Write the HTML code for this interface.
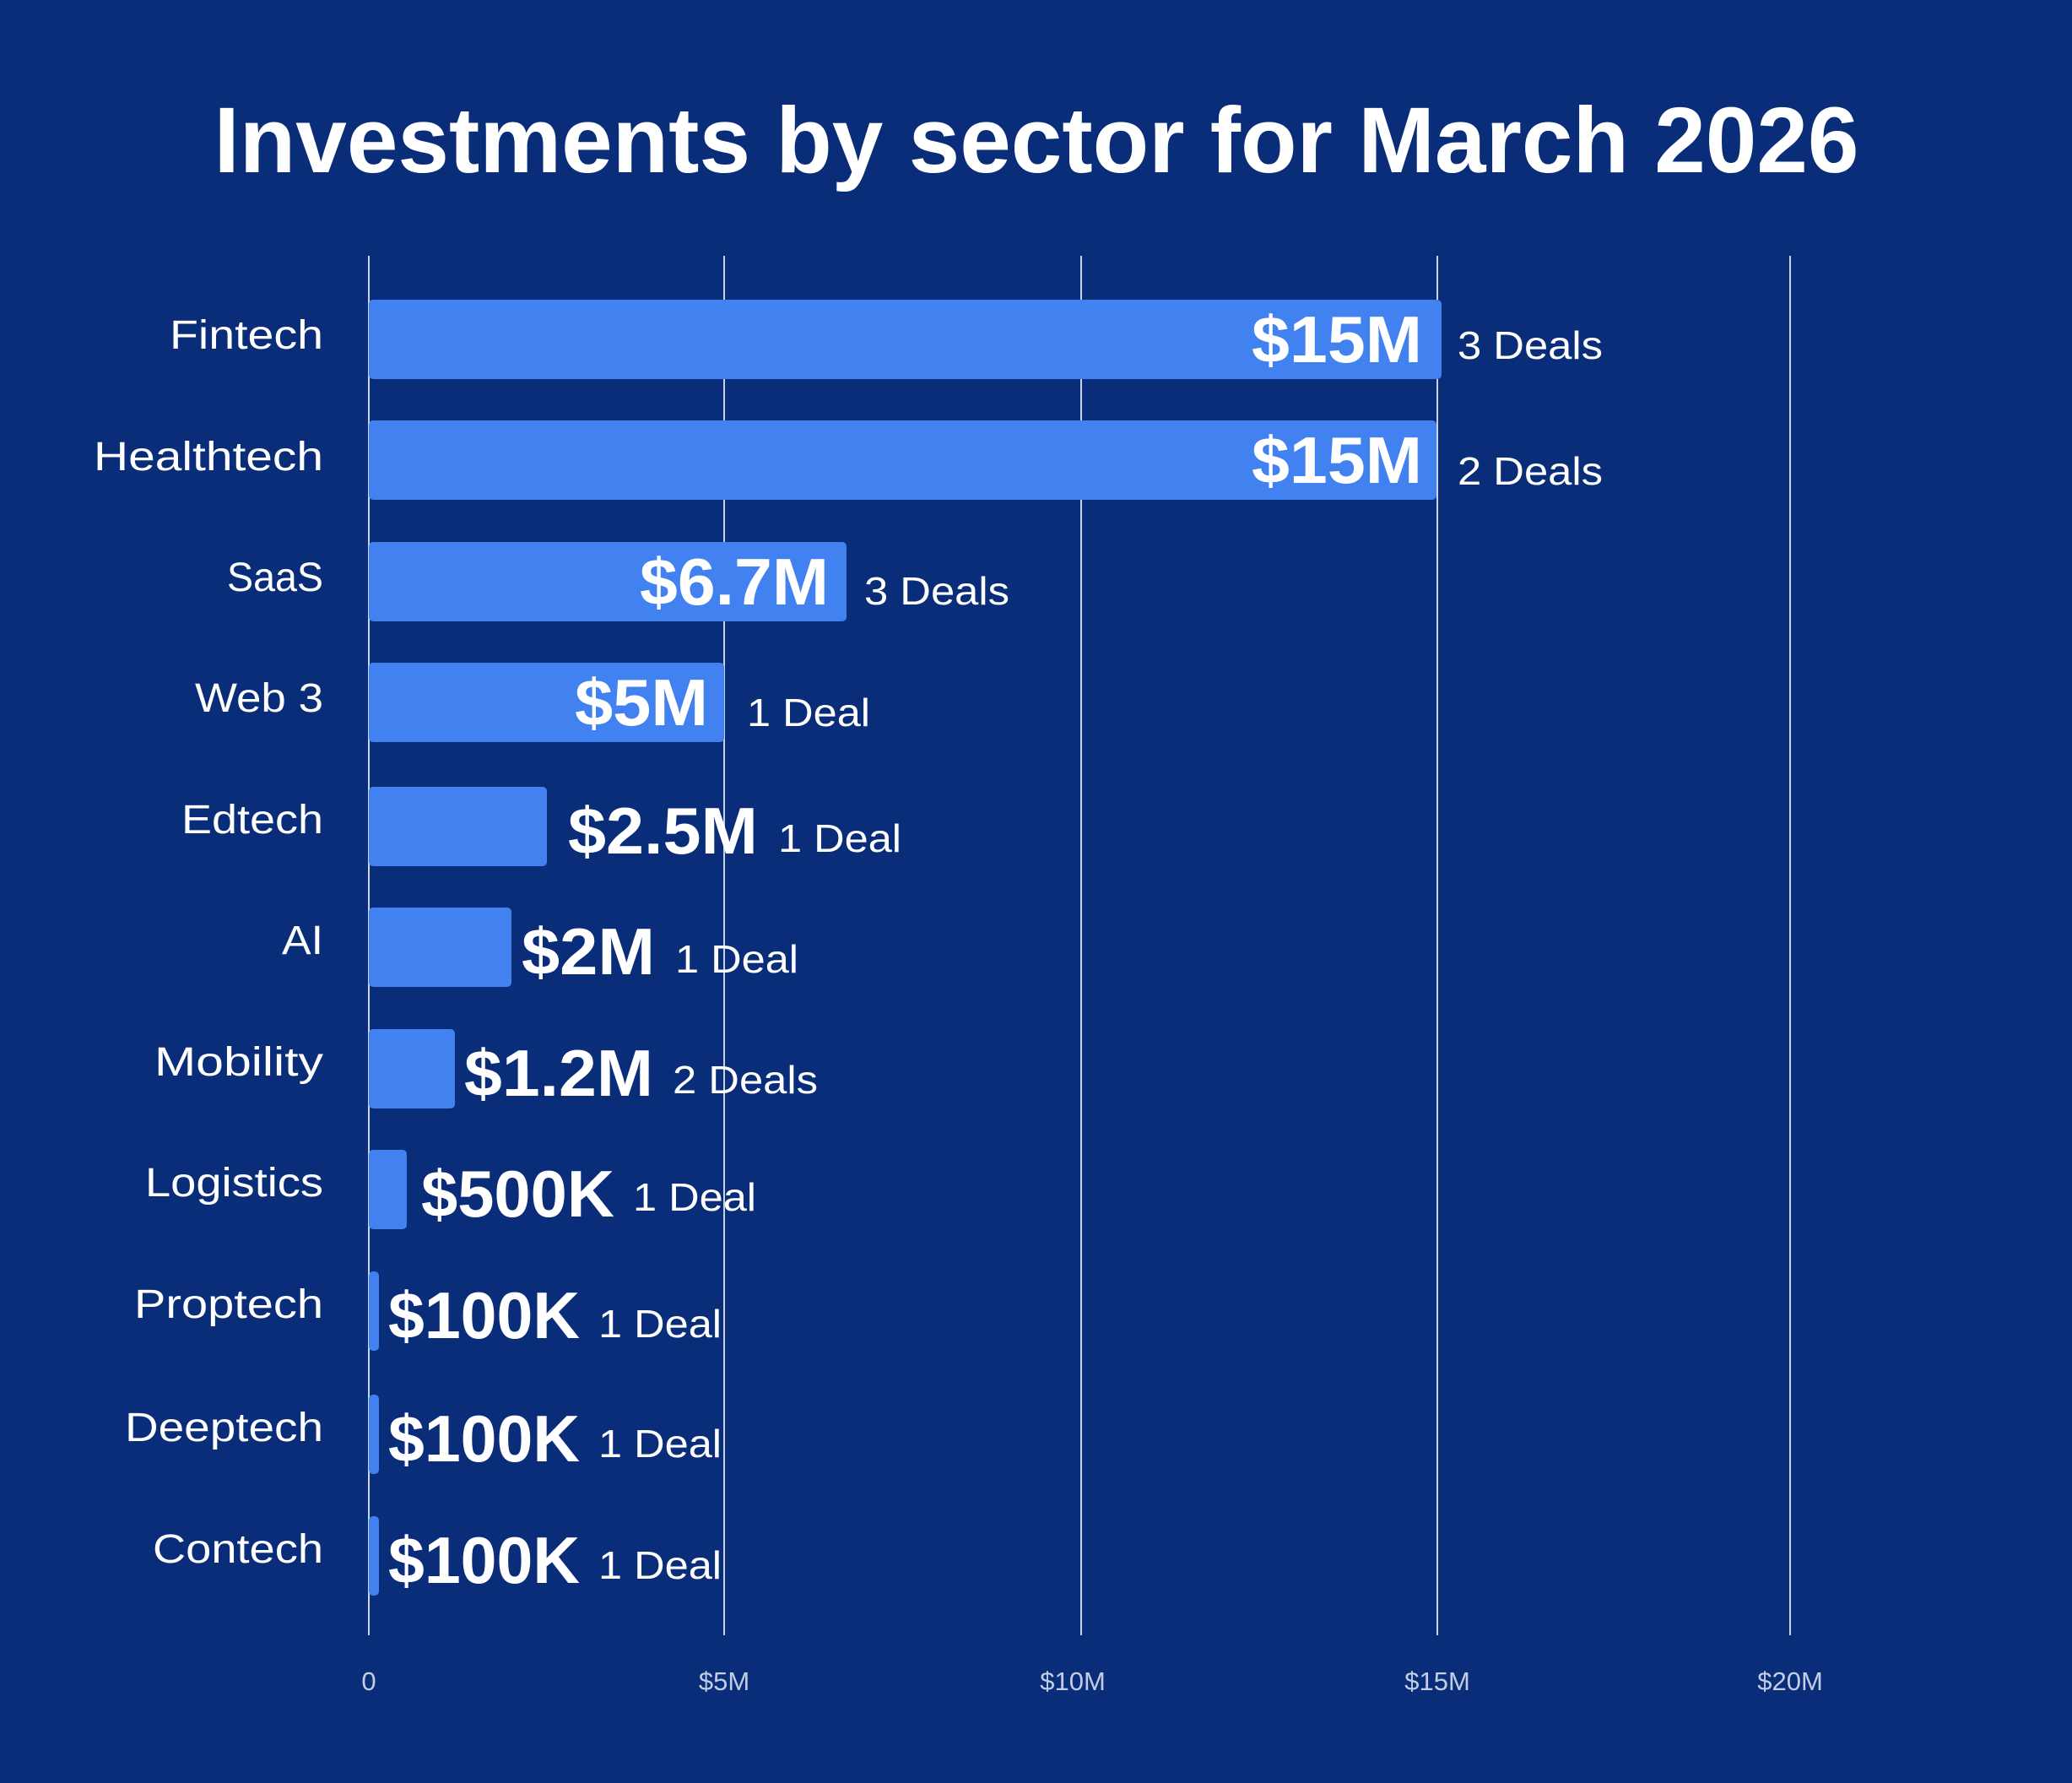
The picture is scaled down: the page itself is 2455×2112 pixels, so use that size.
<!DOCTYPE html>
<html><head><meta charset="utf-8"><style>
html,body{margin:0;padding:0;background:#0a2d7a;}
svg{display:block;}
text{font-family:"Liberation Sans",sans-serif;fill:#fff;}
</style></head><body>
<svg width="2455" height="2112" viewBox="0 0 2455 2112" xmlns="http://www.w3.org/2000/svg">
<rect width="2455" height="2112" fill="#0a2d7a"/>
<text x="1228" y="204" font-size="110" font-weight="bold" text-anchor="middle" textLength="1949" lengthAdjust="spacingAndGlyphs">Investments by sector for March 2026</text>
<g stroke="#c9d2e6" stroke-width="2">
<line x1="437" y1="303" x2="437" y2="1937"/>
<line x1="858" y1="303" x2="858" y2="1937"/>
<line x1="1281" y1="303" x2="1281" y2="1937"/>
<line x1="1703" y1="303" x2="1703" y2="1937"/>
<line x1="2121" y1="303" x2="2121" y2="1937"/>
</g>
<g font-size="31" text-anchor="middle">
<text x="437" y="2002" style="fill:#c3cde6">0</text>
<text x="858" y="2002" style="fill:#c3cde6">$5M</text>
<text x="1271" y="2002" style="fill:#c3cde6">$10M</text>
<text x="1703" y="2002" style="fill:#c3cde6">$15M</text>
<text x="2121" y="2002" style="fill:#c3cde6">$20M</text>
</g>
<g fill="#4282f0">
<rect x="437" y="355" width="1271" height="94" rx="5"/>
<rect x="437" y="498" width="1265" height="94" rx="5"/>
<rect x="437" y="642" width="566" height="94" rx="5"/>
<rect x="437" y="785" width="421" height="94" rx="5"/>
<rect x="437" y="932" width="211" height="94" rx="5"/>
<rect x="437" y="1075" width="169" height="94" rx="5"/>
<rect x="437" y="1219" width="102" height="94" rx="5"/>
<rect x="437" y="1362" width="45" height="94" rx="5"/>
<rect x="437" y="1506" width="12" height="94" rx="5"/>
<rect x="437" y="1652" width="12" height="94" rx="5"/>
<rect x="437" y="1796" width="12" height="94" rx="5"/>
</g>
<g font-size="48" text-anchor="end" lengthAdjust="spacingAndGlyphs">
<text x="383" y="413" textLength="182" lengthAdjust="spacingAndGlyphs">Fintech</text>
<text x="383" y="557" textLength="272" lengthAdjust="spacingAndGlyphs">Healthtech</text>
<text x="383" y="700" textLength="114" lengthAdjust="spacingAndGlyphs">SaaS</text>
<text x="383" y="843" textLength="152" lengthAdjust="spacingAndGlyphs">Web 3</text>
<text x="383" y="987" textLength="168" lengthAdjust="spacingAndGlyphs">Edtech</text>
<text x="383" y="1130" textLength="49" lengthAdjust="spacingAndGlyphs">AI</text>
<text x="383" y="1274" textLength="200" lengthAdjust="spacingAndGlyphs">Mobility</text>
<text x="383" y="1417" textLength="211" lengthAdjust="spacingAndGlyphs">Logistics</text>
<text x="383" y="1561" textLength="224" lengthAdjust="spacingAndGlyphs">Proptech</text>
<text x="383" y="1707" textLength="235" lengthAdjust="spacingAndGlyphs">Deeptech</text>
<text x="383" y="1851" textLength="202" lengthAdjust="spacingAndGlyphs">Contech</text>
</g>
<g font-size="78" font-weight="bold">
<text x="1483" y="429" textLength="202" lengthAdjust="spacingAndGlyphs">$15M</text>
<text x="1483" y="572" textLength="202" lengthAdjust="spacingAndGlyphs">$15M</text>
<text x="758" y="716" textLength="224" lengthAdjust="spacingAndGlyphs">$6.7M</text>
<text x="681" y="859" textLength="158" lengthAdjust="spacingAndGlyphs">$5M</text>
<text x="673" y="1011" textLength="225" lengthAdjust="spacingAndGlyphs">$2.5M</text>
<text x="618" y="1154" textLength="158" lengthAdjust="spacingAndGlyphs">$2M</text>
<text x="550" y="1298" textLength="224" lengthAdjust="spacingAndGlyphs">$1.2M</text>
<text x="499" y="1441" textLength="229" lengthAdjust="spacingAndGlyphs">$500K</text>
<text x="460" y="1585" textLength="227" lengthAdjust="spacingAndGlyphs">$100K</text>
<text x="460" y="1731" textLength="227" lengthAdjust="spacingAndGlyphs">$100K</text>
<text x="460" y="1875" textLength="227" lengthAdjust="spacingAndGlyphs">$100K</text>
</g>
<g font-size="46">
<text x="1727" y="425" textLength="172" lengthAdjust="spacingAndGlyphs">3 Deals</text>
<text x="1727" y="574" textLength="172" lengthAdjust="spacingAndGlyphs">2 Deals</text>
<text x="1024" y="716" textLength="172" lengthAdjust="spacingAndGlyphs">3 Deals</text>
<text x="885" y="860" textLength="146" lengthAdjust="spacingAndGlyphs">1 Deal</text>
<text x="922" y="1009" textLength="146" lengthAdjust="spacingAndGlyphs">1 Deal</text>
<text x="800" y="1152" textLength="146" lengthAdjust="spacingAndGlyphs">1 Deal</text>
<text x="797" y="1295" textLength="172" lengthAdjust="spacingAndGlyphs">2 Deals</text>
<text x="750" y="1434" textLength="146" lengthAdjust="spacingAndGlyphs">1 Deal</text>
<text x="709" y="1584" textLength="146" lengthAdjust="spacingAndGlyphs">1 Deal</text>
<text x="709" y="1726" textLength="146" lengthAdjust="spacingAndGlyphs">1 Deal</text>
<text x="709" y="1870" textLength="146" lengthAdjust="spacingAndGlyphs">1 Deal</text>
</g>
</svg>
</body></html>
